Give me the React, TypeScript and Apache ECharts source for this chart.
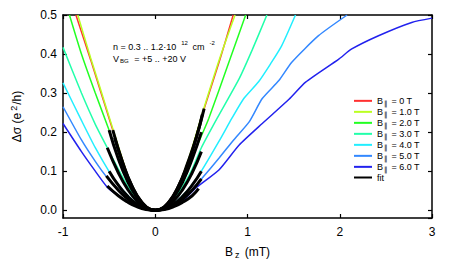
import React, { useEffect, useRef } from "react";
import * as echarts from "echarts";

const fieldLabels = ["0 T", "1.0 T", "2.0 T", "3.0 T", "4.0 T", "5.0 T", "6.0 T"];
const palette = ["#ff3030", "#bbff22", "#22ff22", "#22ffaa", "#22eeff", "#3388ff", "#2222ee"];

const data0T = [[-0.86,0.5],[-0.7,0.385],[-0.6,0.31],[-0.5,0.235],[-0.44,0.19],[-0.3,0.09],[-0.2,0.04],[-0.1,0.01],[0,0],[0.1,0.01],[0.2,0.04],[0.3,0.09],[0.4,0.155],[0.53,0.26],[0.7,0.385],[0.845,0.5]];
const data1T = [[-0.84,0.5],[-0.7,0.39],[-0.6,0.315],[-0.46,0.209],[-0.3,0.09],[-0.2,0.04],[-0.1,0.01],[0,0],[0.1,0.01],[0.2,0.04],[0.3,0.09],[0.4,0.16],[0.51,0.248],[0.7,0.39],[0.865,0.5]];
const data2T = [[-0.93,0.5],[-0.8,0.4],[-0.65,0.3],[-0.5,0.205],[-0.4,0.135],[-0.3,0.078],[-0.2,0.035],[-0.1,0.009],[0,0],[0.1,0.009],[0.2,0.035],[0.3,0.078],[0.4,0.135],[0.5,0.19],[0.58,0.235],[0.8,0.38],[0.98,0.5]];
const data3T = [[-1,0.417],[-0.8,0.3],[-0.65,0.22],[-0.52,0.16],[-0.4,0.105],[-0.3,0.062],[-0.2,0.028],[-0.1,0.007],[0,0],[0.1,0.007],[0.2,0.028],[0.3,0.062],[0.4,0.105],[0.5,0.16],[0.67,0.235],[0.91,0.337],[1.05,0.41],[1.21,0.5]];
const data4T = [[-1,0.326],[-0.8,0.23],[-0.65,0.16],[-0.5,0.099],[-0.4,0.066],[-0.3,0.038],[-0.2,0.017],[-0.1,0.005],[0,0],[0.1,0.005],[0.2,0.017],[0.3,0.038],[0.4,0.066],[0.5,0.1],[0.69,0.176],[0.83,0.235],[0.96,0.286],[1.12,0.329],[1.25,0.375],[1.37,0.421],[1.52,0.5]];
const data5T = [[-1,0.265],[-0.8,0.18],[-0.65,0.125],[-0.53,0.086],[-0.4,0.053],[-0.3,0.031],[-0.2,0.014],[-0.1,0.004],[0,0],[0.1,0.004],[0.2,0.014],[0.3,0.031],[0.4,0.053],[0.5,0.08],[0.69,0.133],[0.85,0.18],[1.02,0.227],[1.16,0.286],[1.34,0.332],[1.48,0.379],[1.77,0.447],[2.08,0.5]];
const data6T = [[-1,0.222],[-0.8,0.15],[-0.65,0.1],[-0.52,0.059],[-0.4,0.037],[-0.3,0.021],[-0.2,0.009],[-0.1,0.002],[0,0],[0.1,0.002],[0.2,0.009],[0.3,0.024],[0.44,0.057],[0.69,0.103],[0.91,0.167],[1.16,0.222],[1.45,0.284],[1.63,0.328],[1.99,0.387],[2.13,0.413],[2.42,0.447],[2.78,0.481],[3.0,0.492]];

const fit0T = [[-0.44,0.185],[-0.35,0.118],[-0.25,0.06],[-0.15,0.021],[-0.05,0.002],[0,0],[0.05,0.002],[0.15,0.021],[0.25,0.06],[0.35,0.115],[0.45,0.19],[0.53,0.26]];
const fit1T = [[-0.46,0.205],[-0.35,0.12],[-0.25,0.061],[-0.15,0.022],[-0.05,0.002],[0,0],[0.05,0.002],[0.15,0.022],[0.25,0.061],[0.35,0.12],[0.45,0.19],[0.51,0.245]];
const fit2T = [[-0.5,0.205],[-0.4,0.131],[-0.3,0.074],[-0.2,0.033],[-0.1,0.008],[0,0],[0.1,0.008],[0.2,0.033],[0.3,0.074],[0.4,0.131],[0.5,0.2]];
const fit3T = [[-0.52,0.16],[-0.4,0.096],[-0.3,0.054],[-0.2,0.024],[-0.1,0.006],[0,0],[0.1,0.006],[0.2,0.024],[0.3,0.054],[0.4,0.096],[0.5,0.15]];
const fit4T = [[-0.5,0.1],[-0.4,0.064],[-0.3,0.036],[-0.2,0.016],[-0.1,0.004],[0,0],[0.1,0.004],[0.2,0.016],[0.3,0.036],[0.4,0.064],[0.5,0.1]];
const fit5T = [[-0.53,0.088],[-0.4,0.051],[-0.3,0.029],[-0.2,0.013],[-0.1,0.003],[0,0],[0.1,0.003],[0.2,0.013],[0.3,0.029],[0.4,0.051],[0.5,0.08]];
const fit6T = [[-0.52,0.062],[-0.4,0.037],[-0.3,0.021],[-0.2,0.009],[-0.1,0.002],[0,0],[0.1,0.002],[0.2,0.009],[0.3,0.021],[0.4,0.037],[0.47,0.055]];

const dataSets = [data0T, data1T, data2T, data3T, data4T, data5T, data6T];
const fitSets = [fit0T, fit1T, fit2T, fit3T, fit4T, fit5T, fit6T];

const FONT = "Liberation Sans";

export default function App() {
  const ref = useRef<HTMLDivElement>(null);
  useEffect(() => {
    const chart = echarts.init(ref.current!, null, { renderer: "svg" });
    const names = fieldLabels.map((l) => "B∥ = " + l);
    const series: any[] = [];
    dataSets.forEach((d, i) => {
      series.push({
        type: "line", name: names[i], data: d, showSymbol: false, smooth: 0.2,
        lineStyle: { color: palette[i], width: 1.5 }, itemStyle: { color: palette[i] }, z: 2,
      });
    });
    fitSets.forEach((d) => {
      series.push({
        type: "line", name: "fit", data: d, showSymbol: false, smooth: true,
        lineStyle: { color: "#000", width: 3 }, itemStyle: { color: "#000" }, z: 3,
      });
    });
    const axisCommon = {
      axisLine: { show: true, onZero: false, lineStyle: { color: "#000", width: 1.5 } },
      axisTick: { show: true, inside: true, length: 4, lineStyle: { color: "#000", width: 1.2 } },
      splitLine: { show: false },
    };
    chart.setOption({
      animation: false,
      grid: { left: 63, right: 31, top: 15, bottom: 44, containLabel: false },
      legend: {
        orient: "vertical", left: 349, top: 91, itemWidth: 18, itemHeight: 2, itemGap: 0,
        icon: "rect",
        data: [...names, "fit"],
        formatter: (n: string) => n === "fit" ? "{t|fit}" : "{t|B}{s|∥}{t| = " + n.replace("B∥ = ", "") + "}",
        textStyle: {
          fontFamily: FONT, fontSize: 9, color: "#000",
          rich: {
            t: { fontFamily: FONT, fontSize: 9, lineHeight: 12.3, color: "#000" },
            s: { fontFamily: FONT, fontSize: 7, lineHeight: 12.3, verticalAlign: "bottom", padding: [4, 1, 0, 1], color: "#000" },
          },
        },
      },
      xAxis: [
        {
          type: "value", min: -1, max: 3, interval: 1, position: "bottom",
          ...axisCommon,
          axisLabel: { color: "#000", fontFamily: FONT, fontSize: 12, margin: 8 },
          name: "{t|B}{s|z}{t| (mT)}", nameLocation: "middle", nameGap: 26,
          nameTextStyle: {
            rich: {
              t: { fontFamily: FONT, fontSize: 12, color: "#000" },
              s: { fontFamily: FONT, fontSize: 9, color: "#000", padding: [6, 2, 0, 2] },
            },
          },
        },
        {
          type: "value", min: -1, max: 3, interval: 1, position: "top",
          ...axisCommon, axisLabel: { show: false },
        },
      ],
      yAxis: [
        {
          type: "value", min: -0.02, max: 0.5, splitNumber: 5, position: "left",
          ...axisCommon,
          axisLabel: {
            color: "#000", fontFamily: FONT, fontSize: 12, margin: 6, showMinLabel: false,
            formatter: (v: number) => (v < 0 ? "" : v.toFixed(1)),
          },
          name: "{t|Δσ (e}{p|2}{t|/h)}", nameLocation: "middle", nameGap: 38, nameRotate: 90,
          nameTextStyle: {
            rich: {
              t: { fontFamily: FONT, fontSize: 12, color: "#000" },
              p: { fontFamily: FONT, fontSize: 9, color: "#000", padding: [0, 1, 7, 2] },
            },
          },
        },
        {
          type: "value", min: -0.02, max: 0.5, splitNumber: 5, position: "right",
          ...axisCommon, axisLabel: { show: false },
        },
      ],
      graphic: [
        {
          type: "text", left: 113, top: 40,
          style: {
            text: "{t|n = 0.3 .. 1.2·10}{p|12}{t| cm}{p|-2}",
            rich: {
              t: { fontFamily: FONT, fontSize: 9, fill: "#000" },
              p: { fontFamily: FONT, fontSize: 6, fill: "#000", padding: [0, 2, 7, 5] },
            },
          },
        },
        {
          type: "text", left: 113, top: 54,
          style: {
            text: "{t|V}{s|BG}{t| = +5 .. +20 V}",
            rich: {
              t: { fontFamily: FONT, fontSize: 9, fill: "#000" },
              s: { fontFamily: FONT, fontSize: 6, fill: "#000", padding: [4, 3, 0, 1] },
            },
          },
        },
      ],
      series,
    });
    return () => chart.dispose();
  }, []);
  return <div ref={ref} style={{ position: "absolute", left: 0, top: 0, width: 463, height: 264 }} />;
}
